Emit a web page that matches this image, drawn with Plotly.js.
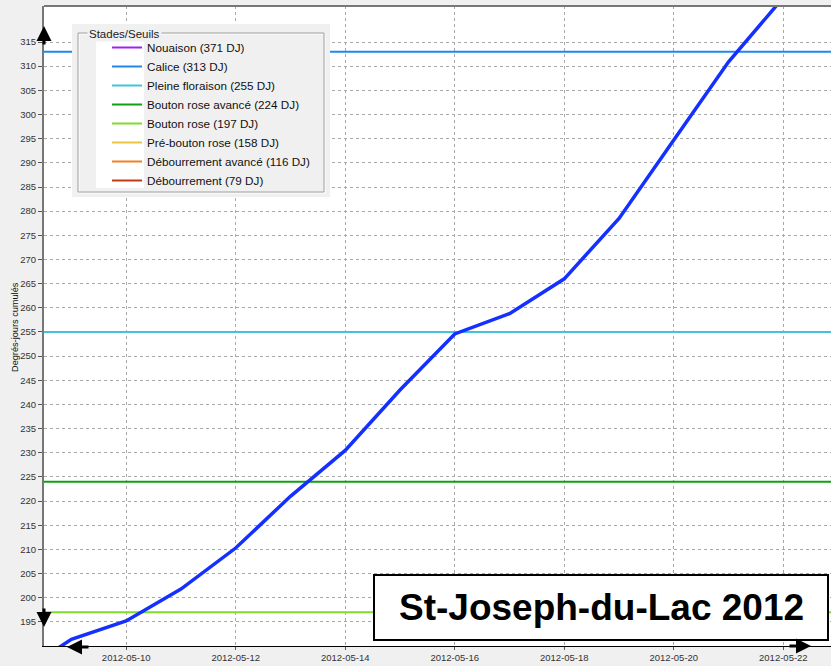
<!DOCTYPE html>
<html>
<head>
<meta charset="utf-8">
<script src="https://cdn.plot.ly/plotly-3.0.1.min.js"></script>
<style>html,body{margin:0;padding:0;background:#f0f0f0;}#chart{width:831px;height:666px;}</style>
</head>
<body>
<div id="chart"></div>
<script>
// Cumulative degree-days (daily values)
const dates = ['2012-05-08','2012-05-09','2012-05-10','2012-05-11','2012-05-12','2012-05-13','2012-05-14',
  '2012-05-15','2012-05-16','2012-05-17','2012-05-18','2012-05-19','2012-05-20','2012-05-21','2012-05-22'];
const degreeDays = [184.0, 191.4, 195.2, 201.8, 210.3, 221.0, 230.5, 243.0, 254.6, 258.8, 266.0, 278.5, 294.7, 310.9, 324.2];

// Stage thresholds
const stageNames = ['Nouaison (371 DJ)','Calice (313 DJ)','Pleine floraison (255 DJ)','Bouton rose avancé (224 DJ)',
  'Bouton rose (197 DJ)','Pré-bouton rose (158 DJ)','Débourrement avancé (116 DJ)','Débourrement (79 DJ)'];
const stageValues = [371, 313, 255, 224, 197, 158, 116, 79];
const stageColors = ['#a020f0','#1e88f0','#40c4dc','#10a010','#80dc28','#e8c440','#f08020','#c03c10'];

const yTicks = [195,200,205,210,215,220,225,230,235,240,245,250,255,260,265,270,275,280,285,290,295,300,305,310,315];
const xRange = ['2012-05-08 12:00','2012-05-22 20:53'];
const yRange = [190.03, 322.45];
const chartTitle = 'St-Joseph-du-Lac 2012';
const yTitle = 'Degrés-jours cumulés';
const legendTitle = 'Stades/Seuils';

const traces = [];
stageValues.forEach((v, i) => {
  traces.push({
    x: [xRange[0], xRange[1]],
    y: [v, v],
    mode: 'lines',
    name: stageNames[i],
    line: {color: stageColors[i], width: 2},
    hoverinfo: 'skip'
  });
});
traces.push({
  x: dates, y: degreeDays, mode: 'lines', showlegend: false,
  line: {color: '#1430ff', width: 3.5}
});

const W = 831, H = 666, L = 44, R = 0, T = 6, B = 20;
const pw = W - L - R, ph = H - T - B;
const px = x => (x - L) / pw;
const py = y => (H - B - y) / ph;

const layout = {
  width: W, height: H,
  margin: {l: L, r: R, t: T, b: B, pad: 0},
  paper_bgcolor: '#f0f0f0',
  plot_bgcolor: '#ffffff',
  font: {family: 'Liberation Sans, Arial, sans-serif', color: '#333'},
  showlegend: true,
  legend: {
    x: px(107), y: py(33), xanchor: 'left', yanchor: 'top',
    bgcolor: 'rgba(0,0,0,0)', borderwidth: 0,
    font: {size: 11.7, color: '#111'}, traceorder: 'normal'
  },
  xaxis: {
    type: 'date', range: xRange,
    tick0: '2012-05-10', dtick: 2 * 86400000, tickformat: '%Y-%m-%d',
    showgrid: true, gridcolor: '#a8a8a8', griddash: 'dot', gridwidth: 1,
    showline: true, linecolor: '#000', linewidth: 1,
    ticks: 'outside', ticklen: 3, tickcolor: '#555',
    tickfont: {size: 9.5, color: '#333'}, zeroline: false, fixedrange: true
  },
  yaxis: {
    range: yRange, tickmode: 'array', tickvals: yTicks, ticktext: yTicks.map(String),
    showgrid: true, gridcolor: '#a8a8a8', griddash: 'dot', gridwidth: 1,
    showline: true, linecolor: '#777', linewidth: 2,
    ticks: 'outside', ticklen: 4, tickcolor: '#555',
    tickfont: {size: 9.5, color: '#333'}, zeroline: false, fixedrange: true
  },
  shapes: [
    {type: 'line', xref: 'paper', yref: 'paper', x0: 0, x1: 1, y0: 1, y1: 1, line: {color: '#777', width: 2}},
    // legend panel
    {type: 'rect', xref: 'paper', yref: 'paper', x0: px(72), x1: px(330), y0: py(24), y1: py(197), fillcolor: '#f0f0f0', line: {width: 0}},
    {type: 'rect', xref: 'paper', yref: 'paper', x0: px(79), x1: px(325), y0: py(34), y1: py(193), fillcolor: 'rgba(0,0,0,0)', line: {color: '#ffffff', width: 1}},
    {type: 'rect', xref: 'paper', yref: 'paper', x0: px(78), x1: px(324), y0: py(33), y1: py(192), fillcolor: 'rgba(0,0,0,0)', line: {color: '#a0a0a0', width: 1}},
    {type: 'rect', xref: 'paper', yref: 'paper', x0: px(96), x1: px(144), y0: py(41), y1: py(188), fillcolor: '#ffffff', line: {width: 0}},
    // title box
    {type: 'rect', xref: 'paper', yref: 'paper', x0: px(374), x1: px(828), y0: py(575), y1: py(640), fillcolor: '#ffffff', line: {color: '#000', width: 2}}
  ],
  annotations: [
    {xref: 'paper', yref: 'paper', x: px(87), y: py(34), xanchor: 'left', yanchor: 'middle', text: legendTitle,
     showarrow: false, bgcolor: '#f0f0f0', font: {size: 11.5, color: '#222'}},
    {xref: 'paper', yref: 'paper', x: px(601), y: py(607), xanchor: 'center', yanchor: 'middle', text: '<b>' + chartTitle + '</b>',
     showarrow: false, font: {size: 37, color: '#000', family: 'Liberation Sans, Arial, sans-serif'}},
    {xref: 'paper', yref: 'paper', x: px(15), y: py(327), xanchor: 'center', yanchor: 'middle', text: yTitle, textangle: -90,
     showarrow: false, font: {size: 9.2, color: '#111'}},
    // axis arrows
    {xref: 'paper', yref: 'paper', x: px(44), y: py(26), ax: 0, ay: 20, text: '', showarrow: true, arrowhead: 2, arrowsize: 1, arrowwidth: 3, arrowcolor: '#000'},
    {xref: 'paper', yref: 'paper', x: px(44), y: py(627), ax: 0, ay: -20, text: '', showarrow: true, arrowhead: 2, arrowsize: 1, arrowwidth: 3, arrowcolor: '#000'},
    {xref: 'paper', yref: 'paper', x: px(67), y: py(647), ax: 23, ay: 0, text: '', showarrow: true, arrowhead: 2, arrowsize: 1, arrowwidth: 3, arrowcolor: '#000'},
    {xref: 'paper', yref: 'paper', x: px(811), y: py(646), ax: -23, ay: 0, text: '', showarrow: true, arrowhead: 2, arrowsize: 1, arrowwidth: 3, arrowcolor: '#000'}
  ]
};

Plotly.newPlot('chart', traces, layout, {displayModeBar: false, staticPlot: true});
</script>
</body>
</html>
